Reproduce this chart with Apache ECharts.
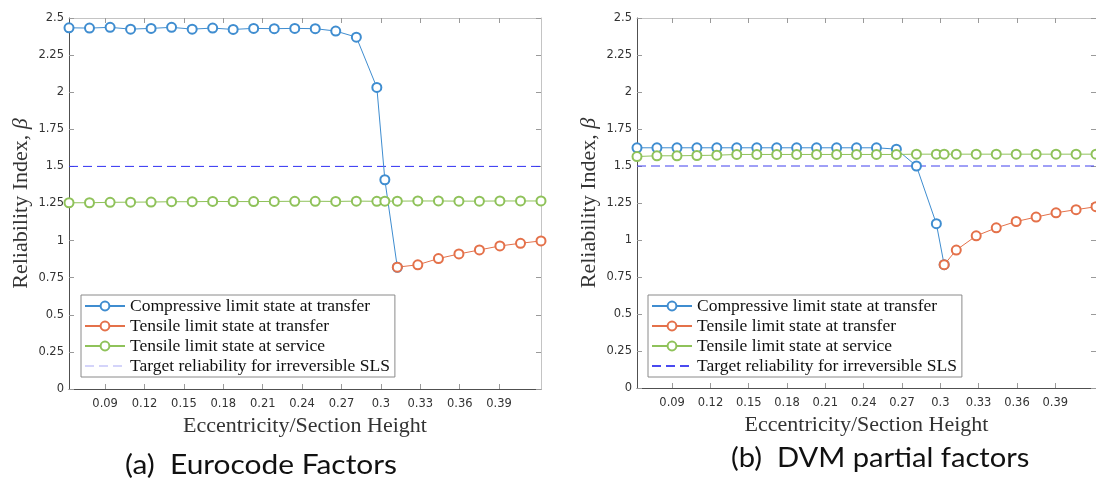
<!DOCTYPE html>
<html lang="en">
<head>
    <meta charset="UTF-8" />
    <title>Reliability index vs eccentricity</title>
    <script src="https://cdn.jsdelivr.net/npm/echarts@6/dist/echarts.min.js"></script>
    <style>
        html, body { margin: 0; padding: 0; background: #fff; }
    </style>
</head>
<body>
    <div id="chart" style="width: 1096px; height: 479px"></div>
    <script>
        // eccentricity / section height (x values shared by both panels)
        var ecc = [0.0625, 0.0781, 0.0938, 0.1094, 0.125, 0.1406, 0.1563, 0.1719, 0.1875,
            0.2031, 0.2188, 0.2344, 0.25, 0.2656, 0.2813, 0.2969, 0.303, 0.3125,
            0.3281, 0.3438, 0.3594, 0.375, 0.3906, 0.4063, 0.4219];

        // (a) Eurocode factors
        var euroComp = [2.434, 2.432, 2.437, 2.425, 2.43, 2.437, 2.425, 2.432, 2.423, 2.43,
            2.428, 2.43, 2.428, 2.412, 2.371, 2.032, 1.41, 0.82];          // ecc[0..17]
        var euroTensT = [0.821, 0.837, 0.879, 0.91, 0.937, 0.964, 0.982, 0.998]; // ecc[17..24]
        var euroTensS = [1.255, 1.255, 1.258, 1.259, 1.26, 1.262, 1.262, 1.264, 1.263, 1.263,
            1.264, 1.265, 1.265, 1.264, 1.266, 1.265, 1.266, 1.266, 1.267, 1.267, 1.266,
            1.266, 1.267, 1.267, 1.267];                                    // all ecc

        // (b) DVM partial factors
        var dvmComp = [1.623, 1.623, 1.623, 1.623, 1.623, 1.623, 1.623, 1.623, 1.623, 1.623,
            1.623, 1.623, 1.623, 1.614, 1.5, 1.11, 0.833];                  // ecc[0..16]
        var dvmTensT = [0.833, 0.932, 1.028, 1.082, 1.125, 1.155, 1.184, 1.205, 1.225]; // ecc[16..24]
        var dvmTensS = [1.564, 1.569, 1.569, 1.571, 1.573, 1.578, 1.578, 1.578, 1.578, 1.578,
            1.578, 1.578, 1.578, 1.578, 1.58, 1.58, 1.58, 1.58, 1.58, 1.58, 1.58, 1.58,
            1.58, 1.58, 1.58];                                              // all ecc

        var target = 1.5;
        var xTicks = [0.09, 0.12, 0.15, 0.18, 0.21, 0.24, 0.27, 0.3, 0.33, 0.36, 0.39];
        var names = ['Compressive limit state at transfer', 'Tensile limit state at transfer',
            'Tensile limit state at service', 'Target reliability for irreversible SLS'];

        var BLUE = '#3f8dd0', ORANGE = '#e4714a', GREEN = '#8fc25a';
        var SERIF = 'Liberation Serif';
        var SANS = 'DejaVu Sans';

        function pairs(xs, ys, start) {
            return ys.map(function (y, i) { return [xs[start + i], y]; });
        }

        var chart = echarts.init(document.getElementById('chart'));

        var grids = [
            { left: 69, top: 18, width: 472, height: 371 },
            { left: 637, top: 18, width: 471, height: 370 }
        ];

        function xAxisFor(gi, top) {
            return {
                type: 'value', gridIndex: gi, position: top ? 'top' : 'bottom',
                min: ecc[0], max: ecc[ecc.length - 1],
                splitLine: { show: false },
                axisLine: { show: true, onZero: false, lineStyle: { color: top ? '#c4c4c4' : '#505050', width: 1 } },
                axisTick: { show: true, inside: true, length: 5, customValues: xTicks, lineStyle: { color: '#9a9a9a' } },
                axisLabel: top ? { show: false } : {
                    show: true, customValues: xTicks, margin: 9,
                    fontFamily: SANS, fontSize: 11.5, color: '#333',
                    formatter: function (v) { return String(+v.toFixed(2)); }
                },
                name: top ? '' : 'Eccentricity/Section Height',
                nameLocation: 'middle', nameGap: 23,
                nameTextStyle: { fontFamily: SERIF, fontSize: 22, color: '#333' }
            };
        }
        function yAxisFor(gi, right) {
            return {
                type: 'value', gridIndex: gi, position: right ? 'right' : 'left',
                min: 0, max: 2.5, interval: 0.25,
                splitLine: { show: false },
                axisLine: { show: true, onZero: false, lineStyle: { color: right ? '#c4c4c4' : '#505050', width: 1 } },
                axisTick: { show: true, inside: true, length: 5, lineStyle: { color: '#9a9a9a' } },
                axisLabel: right ? { show: false } : {
                    show: true, margin: 5, fontFamily: SANS, fontSize: 11.5, color: '#333'
                },
                name: right ? '' : '{a|Reliability Index, }{b|β}',
                nameLocation: 'middle', nameGap: 37, nameRotate: 90,
                nameTextStyle: {
                    rich: {
                        a: { fontFamily: SERIF, fontSize: 22, color: '#333' },
                        b: { fontFamily: SERIF, fontSize: 22, fontStyle: 'italic', color: '#333' }
                    }
                }
            };
        }

        function lineSeries(name, color, data, xi, yi, z) {
            return {
                type: 'line', name: name, xAxisIndex: xi, yAxisIndex: yi,
                data: data, symbol: 'emptyCircle', symbolSize: 9,
                showSymbol: true, z: z || 2, animation: false,
                itemStyle: { color: color, borderWidth: 1 },
                lineStyle: { color: color, width: 1 }
            };
        }
        function targetSeries(color, xi, yi) {
            return {
                type: 'line', name: names[3], xAxisIndex: xi, yAxisIndex: yi,
                data: [[ecc[0], target], [ecc[ecc.length - 1], target]],
                symbol: 'none', animation: false, z: 1,
                itemStyle: { color: color },
                lineStyle: { color: color, width: 1, type: [9, 5] }
            };
        }

        function legendFor(left, targetColor) {
            return {
                left: left, top: 295, orient: 'vertical',
                backgroundColor: '#fff', borderColor: '#8a8a8a', borderWidth: 1, borderRadius: 0,
                padding: [1, 5, 1, 3], itemGap: 0, itemWidth: 40, itemHeight: 11,
                selectedMode: false,
                textStyle: { fontFamily: SERIF, fontSize: 17.5, color: '#111', lineHeight: 20, height: 20 },
                data: [
                    { name: names[0] },
                    { name: names[1] },
                    { name: names[2] },
                    {
                        name: names[3],
                        itemStyle: { color: 'rgba(0,0,0,0)', borderColor: 'rgba(0,0,0,0)', opacity: 0 },
                        lineStyle: { color: targetColor, type: [9, 5], opacity: 1 }
                    }
                ]
            };
        }

        var option = {
            backgroundColor: '#fff',
            animation: false,
            grid: grids,
            xAxis: [xAxisFor(0, false), xAxisFor(1, false), xAxisFor(0, true), xAxisFor(1, true)],
            yAxis: [yAxisFor(0, false), yAxisFor(1, false), yAxisFor(0, true), yAxisFor(1, true)],
            legend: [legendFor(81, '#d4d4fa'), legendFor(648, '#4a4af0')],
            series: [
                targetSeries('#3030f2', 0, 0),
                lineSeries(names[0], BLUE, pairs(ecc, euroComp, 0), 0, 0, 2),
                lineSeries(names[2], GREEN, pairs(ecc, euroTensS, 0), 0, 0, 3),
                lineSeries(names[1], ORANGE, pairs(ecc, euroTensT, 17), 0, 0, 4),

                targetSeries('#4040ee', 1, 1),
                lineSeries(names[0], BLUE, pairs(ecc, dvmComp, 0), 1, 1, 2),
                lineSeries(names[2], GREEN, pairs(ecc, dvmTensS, 0), 1, 1, 3),
                lineSeries(names[1], ORANGE, pairs(ecc, dvmTensT, 16), 1, 1, 4)
            ],
            graphic: [
                {
                    type: 'text', x: 125, y: 453, scaleX: 1.15,
                    style: { text: '(a)  Eurocode Factors', fontFamily: 'Lato', fontSize: 26, fill: '#111', verticalAlign: 'top' }
                },
                {
                    type: 'text', x: 731, y: 446, scaleX: 1.12,
                    style: { text: '(b)  DVM partial factors', fontFamily: 'Lato', fontSize: 26, fill: '#111', verticalAlign: 'top' }
                }
            ]
        };
        chart.setOption(option);
    </script>
</body>
</html>
